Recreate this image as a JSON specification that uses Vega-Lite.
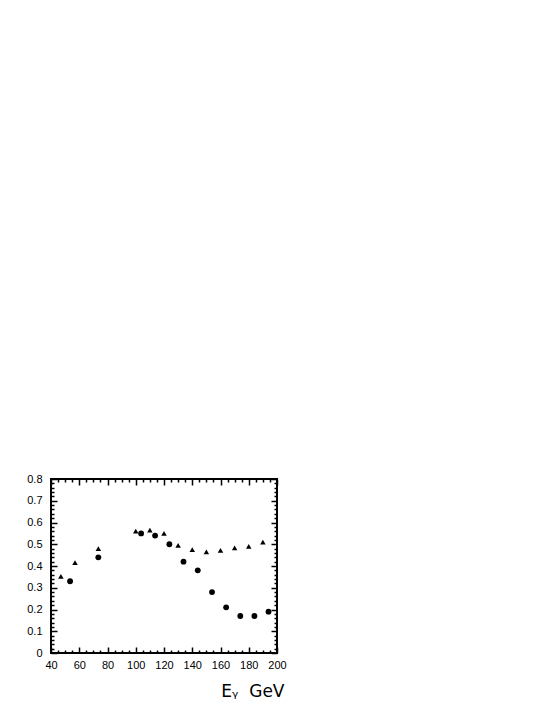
{
  "$schema": "https://vega.github.io/schema/vega-lite/v6.json",
  "width": 226,
  "height": 174,
  "autosize": {"type": "none"},
  "padding": {"left": 51, "top": 479, "right": 268, "bottom": 52},
  "background": "white",
  "config": {
    "view": {"stroke": "black", "strokeWidth": 2},
    "axis": {"domain": false, "grid": false, "ticks": true, "tickColor": "black", "tickOpacity": 1, "tickWidth": 1.5, "labelColor": "black", "labelFont": "Liberation Sans", "labelFontSize": 11, "labelFlush": false, "labelOverlap": false, "titleColor": "black"}
  },
  "data": {"values": [
    {"x": 47, "y": 0.352, "series": "triangle"},
    {"x": 57, "y": 0.415, "series": "triangle"},
    {"x": 73.5, "y": 0.48, "series": "triangle"},
    {"x": 100, "y": 0.56, "series": "triangle"},
    {"x": 110, "y": 0.565, "series": "triangle"},
    {"x": 120, "y": 0.55, "series": "triangle"},
    {"x": 130, "y": 0.495, "series": "triangle"},
    {"x": 140, "y": 0.475, "series": "triangle"},
    {"x": 150, "y": 0.465, "series": "triangle"},
    {"x": 160, "y": 0.472, "series": "triangle"},
    {"x": 170, "y": 0.483, "series": "triangle"},
    {"x": 180, "y": 0.49, "series": "triangle"},
    {"x": 190, "y": 0.51, "series": "triangle"},
    {"x": 53.5, "y": 0.33, "series": "circle"},
    {"x": 73.5, "y": 0.44, "series": "circle"},
    {"x": 103.8, "y": 0.55, "series": "circle"},
    {"x": 113.7, "y": 0.54, "series": "circle"},
    {"x": 123.8, "y": 0.5, "series": "circle"},
    {"x": 133.8, "y": 0.42, "series": "circle"},
    {"x": 143.9, "y": 0.38, "series": "circle"},
    {"x": 154, "y": 0.28, "series": "circle"},
    {"x": 164, "y": 0.21, "series": "circle"},
    {"x": 174, "y": 0.17, "series": "circle"},
    {"x": 184, "y": 0.17, "series": "circle"},
    {"x": 194, "y": 0.19, "series": "circle"}
  ]},
  "resolve": {"axis": {"x": "independent", "y": "independent"}},
  "layer": [
    {
      "mark": {"type": "point", "filled": true, "opacity": 1, "color": "black"},
      "encoding": {
        "x": {"field": "x", "type": "quantitative", "scale": {"domain": [40, 200], "nice": false, "zero": false},
          "axis": {"orient": "bottom", "values": [40, 60, 80, 100, 120, 140, 160, 180, 200], "tickSize": -6, "labelPadding": 12, "title": "E\u1d67\u00a0\u00a0GeV", "titleFont": "DejaVu Sans", "titleFontSize": 17, "titleFontWeight": "normal", "titleAlign": "right", "titleAnchor": "end", "titleX": 233, "titleY": 43, "titleBaseline": "alphabetic"}},
        "y": {"field": "y", "type": "quantitative", "scale": {"domain": [0, 0.8], "nice": false},
          "axis": {"orient": "left", "values": [0, 0.1, 0.2, 0.3, 0.4, 0.5, 0.6, 0.7, 0.8], "format": "~g", "tickSize": -6, "labelPadding": 15, "title": null}},
        "shape": {"field": "series", "type": "nominal", "scale": {"domain": ["triangle", "circle"], "range": ["triangle-up", "circle"]}, "legend": null},
        "size": {"field": "series", "type": "nominal", "scale": {"domain": ["triangle", "circle"], "range": [30, 34]}, "legend": null}
      }
    },
    {
      "mark": {"type": "point", "opacity": 0},
      "encoding": {
        "x": {"field": "x", "type": "quantitative", "axis": {"orient": "bottom", "values": [45, 50, 55, 65, 70, 75, 85, 90, 95, 105, 110, 115, 125, 130, 135, 145, 150, 155, 165, 170, 175, 185, 190, 195], "tickSize": -3, "labels": false, "title": null}},
        "y": {"field": "y", "type": "quantitative", "axis": {"orient": "left", "values": [0.02, 0.04, 0.06, 0.08, 0.12, 0.14, 0.16, 0.18, 0.22, 0.24, 0.26, 0.28, 0.32, 0.34, 0.36, 0.38, 0.42, 0.44, 0.46, 0.48, 0.52, 0.54, 0.56, 0.58, 0.62, 0.64, 0.66, 0.68, 0.72, 0.74, 0.76, 0.78], "tickSize": -3, "labels": false, "title": null}}
      }
    },
    {
      "mark": {"type": "point", "opacity": 0},
      "encoding": {
        "x": {"field": "x", "type": "quantitative", "axis": {"orient": "top", "values": [40, 60, 80, 100, 120, 140, 160, 180, 200], "tickSize": -6, "labels": false, "title": null}},
        "y": {"field": "y", "type": "quantitative", "axis": {"orient": "right", "values": [0, 0.1, 0.2, 0.3, 0.4, 0.5, 0.6, 0.7, 0.8], "tickSize": -6, "labels": false, "title": null}}
      }
    },
    {
      "mark": {"type": "point", "opacity": 0},
      "encoding": {
        "x": {"field": "x", "type": "quantitative", "axis": {"orient": "top", "values": [45, 50, 55, 65, 70, 75, 85, 90, 95, 105, 110, 115, 125, 130, 135, 145, 150, 155, 165, 170, 175, 185, 190, 195], "tickSize": -3, "labels": false, "title": null}},
        "y": {"field": "y", "type": "quantitative", "axis": {"orient": "right", "values": [0.02, 0.04, 0.06, 0.08, 0.12, 0.14, 0.16, 0.18, 0.22, 0.24, 0.26, 0.28, 0.32, 0.34, 0.36, 0.38, 0.42, 0.44, 0.46, 0.48, 0.52, 0.54, 0.56, 0.58, 0.62, 0.64, 0.66, 0.68, 0.72, 0.74, 0.76, 0.78], "tickSize": -3, "labels": false, "title": null}}
      }
    }
  ]
}
